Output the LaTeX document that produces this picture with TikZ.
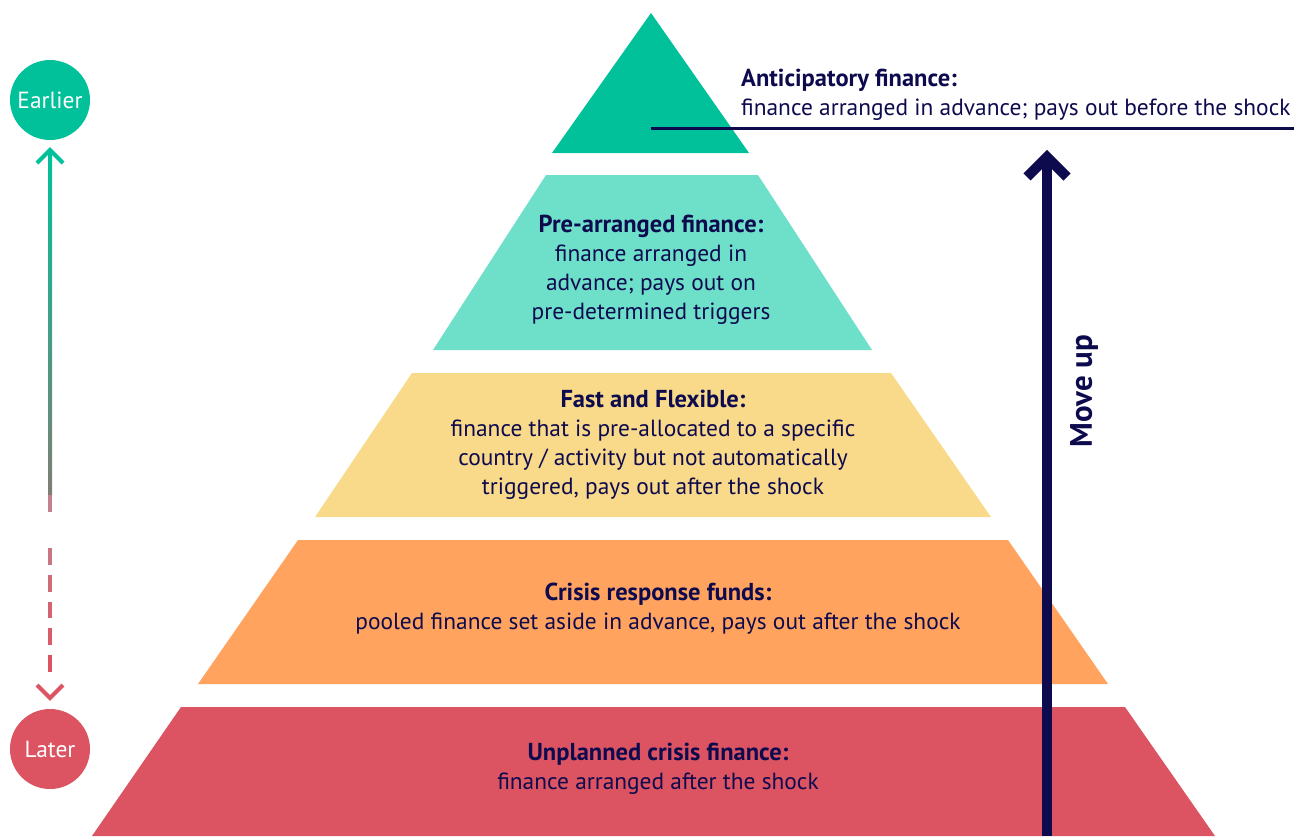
\documentclass[tikz,border=0pt]{standalone}
\usepackage{fontspec}
\setmainfont{PT Sans}
\usetikzlibrary{arrows.meta}
\definecolor{navy}{RGB}{14,10,78}
\definecolor{cgreen}{RGB}{0,193,154}
\definecolor{cteal}{RGB}{110,224,202}
\definecolor{cyellow}{RGB}{249,218,138}
\definecolor{corange}{RGB}{255,163,95}
\definecolor{cred}{RGB}{220,84,98}
\definecolor{cgray}{RGB}{128,126,116}
\definecolor{cpink}{RGB}{196,128,140}
\newcommand{\hd}[1]{{\fontsize{24.5}{29}\selectfont\bfseries #1}}
\begin{document}
\begin{tikzpicture}[x=1pt,y=-1pt,
  lbl/.style={text=navy, align=center, inner sep=0pt, font=\fontsize{23.4}{29}\selectfont},
  circ/.style={circle, minimum size=80pt, inner sep=0pt, text=white, font=\fontsize{23.4}{26}\selectfont},
  chev/.style={line width=4pt, line cap=butt, miter limit=10}]
\useasboundingbox (0,0) rectangle (1294,836);
% pyramid layers
\fill[cgreen] (651,13) -- (749,153) -- (552,153) -- cycle;
\fill[cteal] (546,175) -- (758,175) -- (872,350) -- (433,350) -- cycle;
\fill[cyellow] (412,373) -- (891,373) -- (991,517) -- (315,517) -- cycle;
\fill[corange] (298,540) -- (1008,540) -- (1108,684) -- (198,684) -- cycle;
\fill[cred] (181,707) -- (1125,707) -- (1215,836) -- (92,836) -- cycle;
% anticipatory line
\draw[navy, line width=3pt] (651,128) -- (1294,128);
% labels
\node[lbl, anchor=west, align=left] (antic) at (741,94.5) {\hd{Anticipatory finance:}\\finance arranged in advance; pays out before the shock};
\node[lbl] (pre) at (651,270) {\hd{Pre-arranged finance:}\\finance arranged in\\advance; pays out on\\pre-determined triggers};
\node[lbl] (fast) at (653,444.5) {\hd{Fast and Flexible:}\\finance that is pre-allocated to a specific\\country / activity but not automatically\\triggered, pays out after the shock};
\node[lbl] (crisis) at (658,608.5) {\hd{Crisis response funds:}\\pooled finance set aside in advance, pays out after the shock};
\node[lbl] (unpl) at (658,768.5) {\hd{Unplanned crisis finance:}\\finance arranged after the shock};
% move up arrow
\coordinate (mbot) at (1047,836);
\coordinate (mtop) at (1047,158);
\draw[navy, line width=10pt] (mbot) -- (mtop);
\draw[navy, line width=10pt, line cap=butt, miter limit=10] (1027,177) -- (1047,157) -- (1067,177);
\node[text=navy, rotate=90, font=\fontsize{31}{34}\selectfont\bfseries] (moveup) at (1084,391) {Move up};
% earlier / later
\node[circ, fill=cgreen] (earlier) at (50,100) {Earlier};
\node[circ, fill=cred] (later) at (50,749) {Later};
\shade[top color=cgreen, bottom color=cgray] ([xshift=-2pt,yshift=-51pt]earlier.center) rectangle (52,495);
\foreach \a/\b/\t in {495/512/0, 548/565/25, 575/592/45, 602/618/65, 628/645/82, 655/672/100}{
  \fill[cred!\t!cpink] (48,\a) rectangle (52,\b);
}
\draw[chev, cgreen] (37,163) -- (50,150) -- (63,163);
\draw[chev, cred] (37,685) -- (50,698) -- (63,685);
\end{tikzpicture}
\end{document}
